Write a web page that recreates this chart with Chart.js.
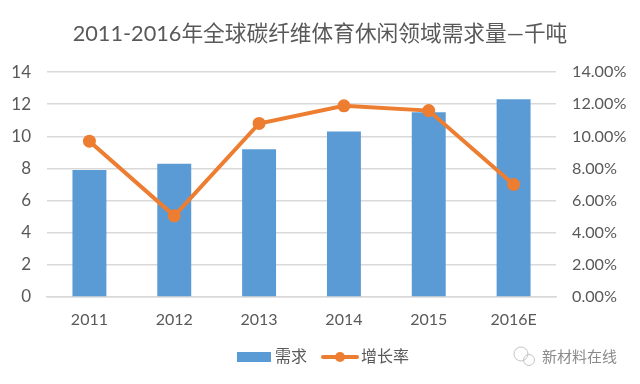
<!DOCTYPE html>
<html>
<head>
<meta charset="utf-8">
<style>
  html, body { margin: 0; padding: 0; background: #fff; }
  canvas { display: block; }
</style>
<script src="https://cdn.jsdelivr.net/npm/chart.js@4/dist/chart.umd.min.js"></script>
</head>
<body>
<canvas id="chart" width="640" height="384"></canvas>
<script>
const categories = ['2011', '2012', '2013', '2014', '2015', '2016E'];
const demand = [7.9, 8.3, 9.2, 10.3, 11.5, 12.3];
const growth = [9.7, 5.05, 10.8, 11.9, 11.6, 7.0];
const titleText = '2011-2016年全球碳纤维体育休闲领域需求量—千吨';
const demandName = '需求';
const growthName = '增长率';
const watermark = '新材料在线';

const fontFamily = 'Lato, "Noto Sans CJK SC", sans-serif';
const textColor = '#595959';
const blue = '#5B9BD5';
const orange = '#ED7D31';

/* legend and watermark sit in the bottom strip */
const bottomStrip = {
    id: 'bottomStrip',
    afterDraw(chart) {
        const c = chart.ctx;
        c.save();
        c.textBaseline = 'middle';
        c.font = '16px ' + fontFamily;

        c.fillStyle = blue;
        c.fillRect(237, 352, 34, 10);
        c.fillStyle = textColor;
        c.fillText(demandName, 275, 357);

        c.strokeStyle = orange;
        c.lineWidth = 4;
        c.lineCap = 'round';
        c.beginPath();
        c.moveTo(323, 357);
        c.lineTo(357, 357);
        c.stroke();
        c.fillStyle = orange;
        c.beginPath();
        c.arc(340, 357, 5, 0, Math.PI * 2);
        c.fill();
        c.fillStyle = textColor;
        c.fillText(growthName, 361, 357);

        c.font = '15px ' + fontFamily;
        c.fillStyle = '#8a8a8a';
        c.fillText(watermark, 542, 357);

        c.strokeStyle = '#c4c4c4';
        c.lineWidth = 1;
        c.beginPath();
        c.arc(521, 354, 7, 0, Math.PI * 2);
        c.stroke();
        c.beginPath();
        c.arc(529, 360, 5.5, 0, Math.PI * 2);
        c.stroke();
        c.restore();
    }
};

new Chart(document.getElementById('chart').getContext('2d'), {
    type: 'bar',
    data: {
        labels: categories,
        datasets: [
            {
                type: 'line',
                label: growthName,
                data: growth,
                yAxisID: 'y1',
                order: 0,
                borderColor: orange,
                backgroundColor: orange,
                borderWidth: 4,
                pointRadius: 4.5,
                pointBackgroundColor: orange,
                pointBorderColor: orange,
                tension: 0
            },
            {
                label: demandName,
                data: demand,
                yAxisID: 'y',
                order: 1,
                backgroundColor: blue,
                barPercentage: 0.4,
                categoryPercentage: 1
            }
        ]
    },
    options: {
        responsive: false,
        animation: false,
        plugins: {
            legend: { display: false },
            tooltip: { enabled: false },
            title: {
                display: true,
                text: titleText,
                color: textColor,
                font: { family: fontFamily, size: 21.7, weight: 'normal' },
                padding: { top: 21, bottom: 25 }
            }
        },
        scales: {
            x: {
                grid: { display: false, drawTicks: false },
                border: { color: '#D9D9D9', width: 1.5 },
                ticks: { color: textColor, font: { family: fontFamily, size: 16 }, padding: 13 },
                afterFit(s) { s.height = 87; }
            },
            y: {
                position: 'left',
                min: 0,
                max: 14,
                grid: { color: '#D9D9D9', lineWidth: 1.5, drawTicks: false },
                border: { display: false },
                ticks: { stepSize: 2, color: textColor, font: { family: fontFamily, size: 17 }, padding: 16 },
                afterFit(s) { s.width = 47; }
            },
            y1: {
                position: 'right',
                min: 0,
                max: 14,
                grid: { display: false, drawTicks: false },
                border: { display: false },
                ticks: {
                    stepSize: 2,
                    color: textColor,
                    font: { family: fontFamily, size: 16.2 },
                    padding: 16,
                    callback: v => v.toFixed(2) + '%'
                },
                afterFit(s) { s.width = 84; }
            }
        }
    },
    plugins: [bottomStrip]
});
</script>
</body>
</html>
